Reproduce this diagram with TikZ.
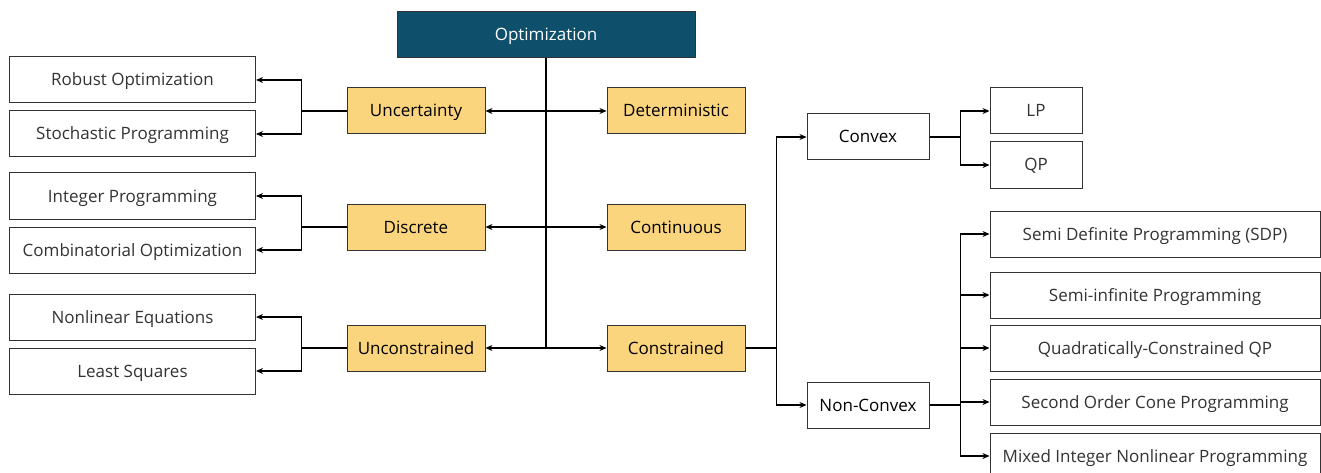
\documentclass[tikz,border=0pt]{standalone}
\usepackage{fontspec}
\setmainfont{Open Sans}
\usetikzlibrary{arrows.meta}
\definecolor{optblue}{HTML}{0E4F6B}
\definecolor{catyellow}{HTML}{FAD57E}
\definecolor{boxline}{HTML}{333333}
\definecolor{txtgray}{HTML}{333333}
\tikzset{
  basebox/.style={draw=boxline, line width=1pt, inner sep=0pt, minimum height=46pt,
    font=\fontsize{17}{20}\selectfont, text height=13pt, text depth=1pt},
  leafbox/.style={basebox, fill=white, text=txtgray},
  catbox/.style={basebox, fill=catyellow, text=black, minimum width=138pt},
  midbox/.style={basebox, fill=white, text=black, minimum width=122pt},
  topbox/.style={basebox, fill=optblue, text=white, minimum width=298pt},
  conn/.style={draw=black, line width=1.2pt},
  arr/.style={conn, -{Stealth[length=7pt,width=6pt]}},
  darr/.style={conn, {Stealth[length=7pt,width=6pt]}-{Stealth[length=7pt,width=6pt]}},
  trunk/.style={draw=black, line width=2pt}
}
\begin{document}
\begin{tikzpicture}[x=1pt,y=-1pt]
\clip (0,0) rectangle (1321,473);
\fill[white] (0,0) rectangle (1321,473);

% top
\node[topbox] (opt) at (546,35) {Optimization};

% categories
\node[catbox] (unc) at (416,111) {Uncertainty};
\node[catbox] (det) at (676,111) {Deterministic};
\node[catbox] (dis) at (416,227) {Discrete};
\node[catbox] (con) at (676,227) {Continuous};
\node[catbox] (ucs) at (416,348) {Unconstrained};
\node[catbox] (cst) at (676,348) {Constrained};

% left leaves
\node[leafbox, minimum width=246pt] (rob) at (132.5,80) {Robust Optimization};
\node[leafbox, minimum width=246pt] (sto) at (132.5,134) {Stochastic Programming};
\node[leafbox, minimum width=246pt] (int) at (132.5,196) {Integer Programming};
\node[leafbox, minimum width=246pt] (cmb) at (132.5,250) {Combinatorial Optimization};
\node[leafbox, minimum width=246pt] (nle) at (132.5,317) {Nonlinear Equations};
\node[leafbox, minimum width=246pt] (lsq) at (132.5,371) {Least Squares};

% convex / non-convex
\node[midbox] (cvx) at (868,137) {Convex};
\node[midbox] (ncv) at (868,405) {Non-Convex};

% right leaves
\node[leafbox, minimum width=92pt] (lp) at (1036,111) {LP};
\node[leafbox, minimum width=92pt] (qp) at (1036,165) {QP};
\node[leafbox, minimum width=330pt] (sdp) at (1155,234) {Semi Definite Programming (SDP)};
\node[leafbox, minimum width=330pt] (sip) at (1155,295) {Semi-infinite Programming};
\node[leafbox, minimum width=330pt] (qcqp) at (1155,348) {Quadratically-Constrained QP};
\node[leafbox, minimum width=330pt] (socp) at (1155,402) {Second Order Cone Programming};
\node[leafbox, minimum width=330pt] (minlp) at (1155,456) {Mixed Integer Nonlinear Programming};

% trunk
\draw[trunk] (opt.south) -- (opt.south |- ucs.east);

% horizontal double arrows
\draw[darr] (unc) -- (det);
\draw[darr] (dis) -- (con);
\draw[darr] (ucs) -- (cst);

% left branches
\draw[conn] (unc.west) -- ++(-45,0) coordinate (bu);
\draw[arr] (bu) |- (rob.east);
\draw[arr] (bu) |- (sto.east);
\draw[conn] (dis.west) -- ++(-45,0) coordinate (bd);
\draw[arr] (bd) |- (int.east);
\draw[arr] (bd) |- (cmb.east);
\draw[conn] (ucs.west) -- ++(-45,0) coordinate (bn);
\draw[arr] (bn) |- (nle.east);
\draw[arr] (bn) |- (lsq.east);

% constrained branch
\draw[conn] (cst.east) -- ++(31,0) coordinate (bc);
\draw[arr] (bc) |- (cvx.west);
\draw[arr] (bc) |- (ncv.west);

% convex branch
\draw[conn] (cvx.east) -- ++(31,0) coordinate (bx);
\draw[arr] (bx) |- (lp.west);
\draw[arr] (bx) |- (qp.west);

% non-convex branch
\draw[conn] (ncv.east) -- ++(31,0) coordinate (bv);
\draw[arr] (bv) |- (sdp.west);
\draw[arr] (bv) |- (sip.west);
\draw[arr] (bv) |- (qcqp.west);
\draw[arr] (bv) |- (socp.west);
\draw[arr] (bv) |- (minlp.west);
\end{tikzpicture}
\end{document}
